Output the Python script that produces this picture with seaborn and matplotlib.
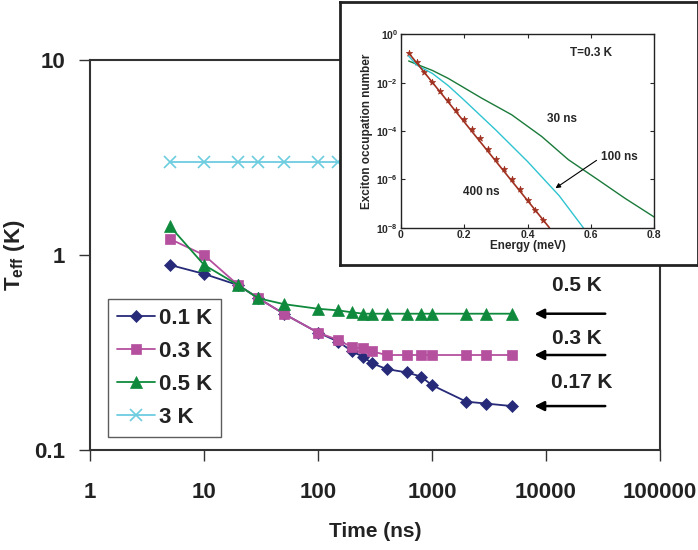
import numpy as np
import pandas as pd
import matplotlib
matplotlib.use("Agg")
import matplotlib.pyplot as plt
import matplotlib.ticker as mticker
import seaborn as sns

# dane - glowny wykres (czas w ns, temperatura efektywna w K)
times = [5, 10, 20, 30, 50, 100, 150, 200, 250, 300, 400, 600, 800, 1000, 2000, 3000, 5000]
t_01K = [0.89, 0.80, 0.70, 0.60, 0.50, 0.40, 0.36, 0.32, 0.30, 0.278, 0.26, 0.25, 0.238, 0.215, 0.177, 0.173, 0.168]
t_03K = [1.21, 1.0, 0.70, 0.60, 0.50, 0.40, 0.367, 0.336, 0.332, 0.32, 0.307, 0.307, 0.307, 0.307, 0.307, 0.307, 0.307]
t_05K = [1.41, 0.89, 0.70, 0.60, 0.56, 0.53, 0.52, 0.508, 0.50, 0.50, 0.50, 0.50, 0.50, 0.50, 0.50, 0.50, 0.50]
t_3K = [3.0, 3.0, 3.0, 3.0, 3.0, 3.0, 3.0, 3.0, 3.0, 3.0, 3.0, 3.0, 3.0, 3.0, 3.0, 3.0, 3.0]
series_labels = ["0.1 K", "0.3 K", "0.5 K", "3 K"]
arrow_labels = ["0.5 K", "0.3 K", "0.17 K"]
arrow_levels = [0.50, 0.307, 0.168]

# dane - wstawka (energia w meV, liczba obsadzen)
e_400 = [0.025, 0.05, 0.075, 0.1, 0.125, 0.15, 0.175, 0.2, 0.225, 0.25, 0.275, 0.3, 0.325, 0.35, 0.375, 0.4, 0.425, 0.45]
n_400 = [1.7e-1, 6.9e-2, 2.7e-2, 1.1e-2, 4.7e-3, 1.9e-3, 7.4e-4, 3.1e-4, 1.2e-4, 5.0e-5, 1.8e-5, 7.1e-6, 2.6e-6, 1.0e-6, 4.0e-7, 1.4e-7, 5.5e-8, 2.1e-8]
e_400_line = [0.025, 0.469]
n_400_line = [1.7e-1, 1.0e-8]
e_100 = [0.025, 0.05, 0.1, 0.15, 0.2, 0.3, 0.4, 0.5, 0.576]
n_100 = [1.26e-1, 5.4e-2, 2.4e-2, 7.5e-3, 1.9e-3, 1.1e-4, 5.5e-6, 2.1e-7, 1.0e-8]
e_30 = [0.025, 0.05, 0.1, 0.15, 0.255, 0.35, 0.445, 0.529, 0.623, 0.707, 0.8]
n_30 = [7.9e-2, 5.8e-2, 3.2e-2, 1.5e-2, 2.3e-3, 4.7e-4, 5.9e-5, 6.5e-6, 9.5e-7, 1.66e-7, 2.75e-8]

sns.set_style("ticks")
plt.rcParams["font.family"] = ["Liberation Sans", "DejaVu Sans"]
plt.rcParams["font.weight"] = "bold"
plt.rcParams["mathtext.fontset"] = "custom"
plt.rcParams["mathtext.rm"] = "Liberation Sans:bold"
plt.rcParams["mathtext.it"] = "Liberation Sans:bold"
plt.rcParams["mathtext.bf"] = "Liberation Sans:bold"

fig = plt.figure(figsize=(6.98, 5.5), dpi=100)
ax = fig.add_axes([90 / 698, 1 - 450 / 550, 570 / 698, 390 / 550])

kolory = ["#262a78", "#b5509f", "#0f8a3c", "#6dcde0"]
markery = ["D", "s", "^", "x"]
rozmiary = [6.5, 7, 8, 8]
for vals, lab, c, m, ms in zip([t_01K, t_03K, t_05K, t_3K], series_labels, kolory, markery, rozmiary):
    sns.lineplot(x=times, y=vals, ax=ax, color=c, marker=m, markersize=ms, markeredgecolor=c,
                 markeredgewidth=1.2 if m == "x" else 0.5, linewidth=1.3, label=lab)

ax.set_xscale("log")
ax.set_yscale("log")
ax.set_xlim(1, 100000)
ax.set_ylim(0.1, 10)
ax.xaxis.set_major_locator(mticker.FixedLocator([1, 10, 100, 1000, 10000, 100000]))
ax.xaxis.set_major_formatter(mticker.FixedFormatter(["1", "10", "100", "1000", "10000", "100000"]))
ax.yaxis.set_major_locator(mticker.FixedLocator([0.1, 1, 10]))
ax.yaxis.set_major_formatter(mticker.FixedFormatter(["0.1", "1", "10"]))
ax.xaxis.set_minor_locator(mticker.NullLocator())
ax.yaxis.set_minor_locator(mticker.NullLocator())
ax.tick_params(axis="both", direction="out", length=8, width=1, color="#333333", labelsize=16,
               labelcolor="#222222")
ax.tick_params(axis="x", pad=15)
ax.tick_params(axis="y", pad=10)
for sp in ax.spines.values():
    sp.set_linewidth(1.5)
    sp.set_color("#333333")

ax.set_xlabel("Time (ns)", fontsize=15, fontweight="bold", labelpad=14, color="#222222")
ax.set_ylabel(r"T$_{\rm eff}$ (K)", fontsize=16, fontweight="bold", labelpad=5, color="#222222")

leg = ax.legend(loc="lower left", bbox_to_anchor=(0.0316, 0.033), borderaxespad=0, fontsize=16,
                frameon=True, fancybox=False, edgecolor="#333333", handlelength=1.7,
                handletextpad=0.2, labelspacing=0.55, borderpad=0.4)
leg.get_frame().set_linewidth(1.0)
for t in leg.get_texts():
    t.set_color("#222222")

for lab, lev in zip(arrow_labels, arrow_levels):
    ax.annotate("", xy=(7500, lev), xytext=(35000, lev),
                arrowprops=dict(arrowstyle="-|>", color="black", lw=1.8, mutation_scale=14))
ax.text(18700, 0.70, arrow_labels[0], ha="center", va="center", fontsize=15, fontweight="bold", color="#222222")
ax.text(18700, 0.375, arrow_labels[1], ha="center", va="center", fontsize=15, fontweight="bold", color="#222222")
ax.text(20700, 0.221, arrow_labels[2], ha="center", va="center", fontsize=15, fontweight="bold", color="#222222")

# ramka wstawki
frame = fig.add_axes([340 / 698, 1 - 265 / 550, 358 / 698, 263 / 550])
frame.set_xticks([])
frame.set_yticks([])
frame.set_facecolor("white")
for sp in frame.spines.values():
    sp.set_linewidth(2)
    sp.set_color("#222222")

ins = fig.add_axes([400.7 / 698, 1 - 227.7 / 550, 253.6 / 698, 193.4 / 550])
sns.lineplot(x=e_30, y=n_30, ax=ins, color="#1a7a3a", linewidth=1.0)
sns.lineplot(x=e_100, y=n_100, ax=ins, color="#2ec4d0", linewidth=1.0)
sns.lineplot(x=e_400_line, y=n_400_line, ax=ins, color="#a0301f", linewidth=1.2)
sns.scatterplot(x=e_400, y=n_400, ax=ins, color="#a0301f", marker="*", s=22, edgecolor="#a0301f", linewidth=0.5)
ins.set_yscale("log")
ins.set_xlim(0, 0.8)
ins.set_ylim(1e-8, 1)
ins.xaxis.set_major_locator(mticker.FixedLocator([0, 0.2, 0.4, 0.6, 0.8]))
ins.xaxis.set_major_formatter(mticker.FixedFormatter(["0", "0.2", "0.4", "0.6", "0.8"]))
ins.yaxis.set_major_locator(mticker.FixedLocator([1e-8, 1e-6, 1e-4, 1e-2, 1]))
ins.yaxis.set_major_formatter(mticker.FuncFormatter(lambda v, p: r"$\mathregular{10^{%d}}$" % round(np.log10(v))))
ins.yaxis.set_minor_locator(mticker.NullLocator())
ins.tick_params(axis="both", direction="in", length=3, width=0.8, labelsize=7.5, top=True, right=True, pad=2)
for t in ins.get_xticklabels() + ins.get_yticklabels():
    t.set_fontweight("bold")
for sp in ins.spines.values():
    sp.set_linewidth(1.0)
    sp.set_color("#222222")
ins.set_xlabel("Energy (meV)", fontsize=8.5, fontweight="bold", labelpad=0)
ins.set_ylabel("Exciton occupation number", fontsize=8.5, fontweight="bold", labelpad=2)
f_ins = dict(fontsize=8.5, fontweight="bold", ha="center", va="center")
ins.text(0.60, 10 ** -0.78, "T=0.3 K", **f_ins)
ins.text(0.508, 10 ** -3.5, "30 ns", **f_ins)
ins.text(0.69, 10 ** -5.06, "100 ns", **f_ins)
ins.text(0.255, 10 ** -6.53, "400 ns", **f_ins)
ins.annotate("", xy=(0.481, 10 ** -6.43), xytext=(0.625, 10 ** -5.15),
             arrowprops=dict(arrowstyle="-|>", color="black", lw=0.8, mutation_scale=7))

fig.savefig("out.png", dpi=100)
